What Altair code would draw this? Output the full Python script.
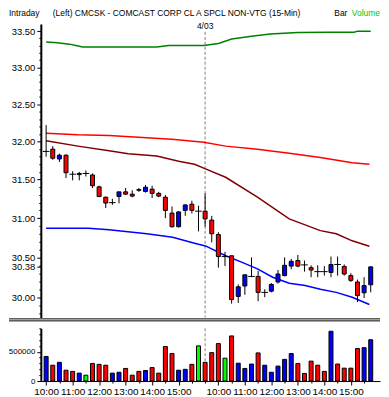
import altair as alt
import pandas as pd

# ---------------- data ----------------
opens  = [31.87, 31.90, 31.77, 31.82, 31.57, 31.565, 31.58, 31.56, 31.405, 31.27,
          31.20, 31.28, 31.34, 31.31, 31.37, 31.345, 31.375, 31.32, 31.27, 31.065,
          30.89, 31.10, 31.18, 31.09, 31.09, 30.975, 30.79, 30.51, 30.52, 30.01,
          30.14, 30.26, 30.26, 30.06, 30.075, 30.19, 30.27, 30.39, 30.46, 30.405,
          30.37, 30.32, 30.32, 30.31, 30.41, 30.385, 30.27, 30.19, 30.055, 30.155]
highs  = [32.22, 31.94, 31.84, 31.83, 31.61, 31.60, 31.62, 31.58, 31.42, 31.28,
          31.25, 31.34, 31.39, 31.36, 31.39, 31.43, 31.42, 31.34, 31.30, 31.15,
          31.09, 31.18, 31.225, 31.16, 31.32, 31.03, 30.82, 30.57, 30.52, 30.16,
          30.28, 30.50, 30.33, 30.10, 30.175, 30.34, 30.50, 30.48, 30.53, 30.46,
          30.40, 30.40, 30.39, 30.51, 30.51, 30.41, 30.30, 30.22, 30.25, 30.38]
lows   = [31.80, 31.76, 31.73, 31.52, 31.49, 31.49, 31.54, 31.39, 31.27, 31.13,
          31.17, 31.19, 31.30, 31.27, 31.34, 31.33, 31.26, 31.27, 31.00, 30.88,
          30.88, 31.03, 31.06, 30.83, 30.89, 30.69, 30.37, 30.39, 29.92, 29.93,
          30.03, 30.25, 29.95, 30.00, 30.06, 30.17, 30.26, 30.35, 30.375, 30.32,
          30.25, 30.25, 30.27, 30.25, 30.27, 30.27, 30.19, 29.94, 29.99, 30.06]
closes = [31.87, 31.78, 31.82, 31.59, 31.57, 31.58, 31.58, 31.42, 31.28, 31.195,
          31.20, 31.34, 31.31, 31.285, 31.36, 31.40, 31.32, 31.285, 31.10, 30.89,
          31.08, 31.17, 31.10, 31.09, 30.99, 30.80, 30.51, 30.51, 29.97, 30.13,
          30.28, 30.26, 30.06, 30.06, 30.16, 30.29, 30.40, 30.45, 30.39, 30.405,
          30.34, 30.32, 30.32, 30.41, 30.41, 30.29, 30.21, 30.02, 30.145, 30.38]
volumes = [420000, 270000, 320000, 185000, 165000, 135000, 100000, 300000, 285000, 270000,
           135000, 150000, 215000, 100000, 165000, 180000, 230000, 135000, 590000, 470000,
           185000, 200000, 285000, 600000, 320000, 485000, 640000, 390000, 770000, 305000,
           215000, 290000, 480000, 270000, 150000, 255000, 370000, 470000, 300000, 130000,
           340000, 270000, 165000, 850000, 290000, 220000, 220000, 555000, 570000, 705000]
volume_colors = ["b", "r", "b", "r", "r", "b", "g", "r", "r", "r",
                 "b", "b", "r", "r", "r", "b", "r", "r", "r", "r",
                 "b", "b", "r", "g", "r", "r", "r", "g", "r", "b",
                 "b", "b", "r", "b", "b", "b", "b", "b", "r", "r",
                 "r", "r", "r", "b", "r", "r", "r", "r", "b", "b"]
day1_times = ["10:00", "10:15", "10:30", "10:45", "11:00", "11:15", "11:30", "11:45",
              "12:00", "12:15", "12:30", "12:45", "13:00", "13:15", "13:30", "13:45",
              "14:00", "14:15", "14:30", "14:45", "15:00", "15:15", "15:30", "15:45"]
day2_times = ["9:30", "9:45"] + day1_times
bar_times = day1_times + day2_times

# indicator lines: (bar position, value)
green_pos = [0, 1.7, 3.5, 4.5, 5.5, 16.7, 18.5, 21.4, 23.8, 26, 28, 31, 33.8, 38, 42.4, 46.5, 47, 49]
green_val = [33.35, 33.34, 33.32, 33.30, 33.28, 33.28, 33.30, 33.30, 33.30, 33.33, 33.39, 33.43, 33.46, 33.48, 33.486, 33.486, 33.50, 33.50]
red_pos = [0, 4.8, 9.5, 15.2, 19, 23.8, 27.1, 31.9, 36.7, 41.4, 46.2, 48.8]
red_val = [32.11, 32.09, 32.08, 32.05, 32.03, 31.99, 31.94, 31.90, 31.845, 31.79, 31.72, 31.70]
dred_pos = [0, 4.8, 9.5, 12.4, 16.7, 20, 22.4, 24.06, 27.1, 31.9, 36.7, 41.4, 43.8, 46.2, 48.8]
dred_val = [32.01, 31.94, 31.88, 31.84, 31.81, 31.74, 31.70, 31.64, 31.53, 31.27, 30.99, 30.84, 30.80, 30.71, 30.64]
blue_pos = [0, 6.4, 9.5, 15.2, 19.1, 22.4, 24.06, 27.1, 29.5, 31.9, 34.2, 36.7, 39.1, 41.4, 43.8, 46.2, 48.8]
blue_val = [30.87, 30.87, 30.85, 30.80, 30.755, 30.68, 30.645, 30.52, 30.44, 30.355, 30.25, 30.175, 30.146, 30.10, 30.06, 30.00, 29.91]

price_major = [30.0, 30.5, 31.0, 31.5, 32.0, 32.5, 33.0, 33.5]
price_last = 30.38
price_minor = [round(29.8 + 0.1 * k, 2) for k in range(38)]
vol_ticks = [0, 100000, 200000, 300000, 400000, 500000, 600000, 700000, 800000, 900000]

# ---------------- tables ----------------
cmap = {"r": "#ff0000", "b": "#0000ff", "g": "#00ff00"}
df = pd.DataFrame({"idx": list(range(len(opens))), "open": opens, "high": highs,
                   "low": lows, "close": closes, "volume": volumes,
                   "vcolor": [cmap[c] for c in volume_colors]})
df["ccolor"] = ["#0000ff" if c > o else ("#ff0000" if c < o else "#000000")
                for o, c in zip(opens, closes)]

rows = []
for name, col, xs, ys in [("g", "#008000", green_pos, green_val),
                          ("r", "#ff0000", red_pos, red_val),
                          ("d", "#800000", dred_pos, dred_val),
                          ("b", "#0000ff", blue_pos, blue_val)]:
    for x, y in zip(xs, ys):
        rows.append({"pos": x, "val": y, "name": name, "color": col})
lines_df = pd.DataFrame(rows)
one = pd.DataFrame({"a": [0]})

W, H1, H2 = 341, 295, 53
FONT = "Liberation Sans"
HS = 8.5  # header font size

xscale = alt.Scale(domain=[-0.05, 49.65], nice=False, zero=False)
yscale = alt.Scale(type="log", domain=[29.75, 33.6], nice=False, zero=False)

major_test = "(abs(datum.value*2-round(datum.value*2))<0.001 || abs(datum.value-30.38)<0.001)"
price_axis = alt.Axis(
    values=sorted(set(price_minor + price_major + [price_last])),
    labelExpr=major_test + " ? format(datum.value,'.2f') : ''",
    tickSize={"condition": {"test": major_test, "value": 4}, "value": 2},
    labelOverlap=False, labelFlush=False, grid=False, title=None,
    domainColor="black", domainWidth=2, tickColor="black", tickWidth=1,
    labelFont=FONT, labelFontSize=9.5, labelColor="black", labelPadding=2)

label_js = "[" + ",".join("'" + (t if t.endswith(":00") else "") + "'" for t in bar_times) + "]"
hour_idx = [i for i, t in enumerate(bar_times) if t.endswith(":00")]
hour_test = "indexof([" + ",".join(str(i) for i in hour_idx) + "], datum.value) >= 0"
x_axis = alt.Axis(
    values=list(range(0, len(bar_times), 2)),
    labelExpr=label_js + "[datum.value]",
    tickSize={"condition": {"test": hour_test, "value": 4}, "value": 2},
    labelOverlap=False, labelFlush=False, grid=False, title=None,
    domainColor="black", domainWidth=1, tickColor="black",
    labelFont=FONT, labelFontSize=10, labelColor="black", labelPadding=2)

vol_test = "(datum.value==0 || datum.value==500000)"
vol_axis = alt.Axis(
    values=vol_ticks,
    labelExpr=vol_test + " ? format(datum.value,'d') : ''",
    tickSize={"condition": {"test": vol_test, "value": 4}, "value": 2},
    labelOverlap=False, labelFlush=False, grid=False, title=None,
    domainColor="black", domainWidth=2, tickColor="black",
    labelFont=FONT, labelFontSize=8, labelColor="black", labelPadding=2)

X = alt.X("idx:Q", scale=xscale, axis=None)

# ---------------- price panel ----------------
dashed = alt.Chart(one).mark_rule(color="#808080", strokeDash=[3, 2], strokeWidth=1).encode(
    x=alt.X(datum=24, type="quantitative", scale=xscale, axis=None),
    y=alt.value(8), y2=alt.value(H1))
lines = alt.Chart(lines_df).mark_line(strokeWidth=1.5).encode(
    x=alt.X("pos:Q", scale=xscale, axis=None),
    y=alt.Y("val:Q", scale=yscale, axis=price_axis),
    detail="name:N", order="pos:Q",
    color=alt.Color("color:N", scale=None))
wicks = alt.Chart(df).mark_rule(color="black", strokeWidth=1).encode(
    x=X, y=alt.Y("low:Q", scale=yscale, axis=price_axis), y2="high:Q")
bodies = alt.Chart(df).transform_filter("datum.open != datum.close").mark_bar(
    size=4, stroke="black", strokeWidth=1).encode(
    x=X, y=alt.Y("open:Q", scale=yscale, axis=price_axis), y2="close:Q",
    color=alt.Color("ccolor:N", scale=None))
dojis = alt.Chart(df).transform_filter("datum.open == datum.close").transform_calculate(
    xl="datum.idx - 0.5", xr="datum.idx + 0.5").mark_rule(color="black", strokeWidth=1).encode(
    x=alt.X("xl:Q", scale=xscale, axis=None), x2="xr:Q",
    y=alt.Y("close:Q", scale=yscale, axis=price_axis))


def label(txt, x, y, color="black", align="left", size=HS):
    return alt.Chart(one).mark_text(align=align, baseline="alphabetic", font=FONT,
                                    fontSize=size, color=color).encode(
        x=alt.value(x), y=alt.value(y), text=alt.value(txt))


date_lbl = alt.Chart(one).mark_text(align="center", baseline="alphabetic", font=FONT,
                                    fontSize=HS, color="black").encode(
    x=alt.X(datum=24, type="quantitative", scale=xscale, axis=None),
    y=alt.value(5), text=alt.value("4/03"))
sep1 = alt.Chart(one).mark_rule(color="black", strokeWidth=1).encode(
    x=alt.value(-32), x2=alt.value(W), y=alt.value(H1 + 1.5))
sep2 = alt.Chart(one).mark_rule(color="black", strokeWidth=1).encode(
    x=alt.value(-32), x2=alt.value(W), y=alt.value(H1 + 3.5))

price = alt.layer(
    dashed, lines, wicks, bodies, dojis,
    label("Intraday", -32, -8),
    label("(Left)  CMCSK - COMCAST CORP CL A SPCL NON-VTG  (15-Min)", 12, -8),
    label("Bar", 295, -8),
    label("Volume", W, -8, color="#00c800", align="right"),
    date_lbl, sep1, sep2,
).properties(width=W, height=H1)

# ---------------- volume panel ----------------
vbars = alt.Chart(df).mark_bar(size=4, stroke="black", strokeWidth=1).encode(
    x=alt.X("idx:Q", scale=xscale, axis=x_axis),
    y=alt.Y("volume:Q", scale=alt.Scale(domain=[0, 900000], nice=False), axis=vol_axis),
    color=alt.Color("vcolor:N", scale=None))
vdashed = alt.Chart(one).mark_rule(color="#808080", strokeDash=[3, 2], strokeWidth=1).encode(
    x=alt.X(datum=24, type="quantitative", scale=xscale, axis=x_axis),
    y=alt.value(0), y2=alt.value(H2))
volume = alt.layer(vdashed, vbars).properties(width=W, height=H2)

chart = alt.vconcat(price, volume, spacing=3).resolve_scale(
    y="independent", x="independent").properties(
    padding={"left": 0, "top": 0, "right": 0, "bottom": 0},
    background="white").configure_view(stroke=None)

chart.save("out.html", embed_options={"renderer": "svg", "actions": False})
